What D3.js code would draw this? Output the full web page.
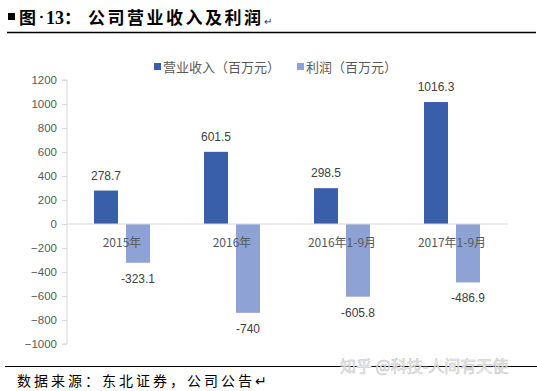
<!DOCTYPE html>
<html><head><meta charset="utf-8">
<script src="https://cdn.jsdelivr.net/npm/d3@7"></script>
<style>body{margin:0;background:#fff}svg{display:block}</style>
</head><body>
<script>
const categories = ["2015年", "2016年", "2016年1-9月", "2017年1-9月"];
const revenue = [278.7, 601.5, 298.5, 1016.3];
const profit = [-323.1, -740, -605.8, -486.9];
const seriesNames = ["营业收入（百万元）", "利润（百万元）"];
const yTicks = [1200, 1000, 800, 600, 400, 200, 0, -200, -400, -600, -800, -1000];

const W = 537, H = 391;
const svg = d3.select("body").append("svg").attr("width", W).attr("height", H);
const colors = ["#3a5faa", "#8ea2d5"];

// Title
const tf = "Noto Sans CJK SC";
svg.append("rect").attr("x", 8).attr("y", 13).attr("width", 7).attr("height", 7).attr("fill", "#000");
svg.append("text").attr("x", 19).attr("y", 24).attr("font-family", tf).attr("font-weight", "bold")
  .attr("font-size", 17).text("图");
svg.append("circle").attr("cx", 41.5).attr("cy", 17).attr("r", 1.3).attr("fill", "#000");
svg.append("text").attr("x", 46).attr("y", 24).attr("font-family", "Liberation Serif")
  .attr("font-weight", "bold").attr("font-size", 18).text("13");
svg.append("text").attr("x", 64).attr("y", 24).attr("font-family", tf).attr("font-weight", "bold")
  .attr("font-size", 17).text("：");
svg.append("text").attr("x", 88).attr("y", 24).attr("font-family", tf).attr("font-weight", "bold")
  .attr("font-size", 17).attr("letter-spacing", 2.5).text("公司营业收入及利润");
svg.append("text").attr("x", 264).attr("y", 25).attr("font-family", tf)
  .attr("font-size", 10).attr("fill", "#333").text("↵");
svg.append("line").attr("x1", 7).attr("x2", 536).attr("y1", 32.5).attr("y2", 32.5)
  .attr("stroke", "#000").attr("stroke-width", 1.3);

const x = d3.scaleBand().domain(categories).range([67, 507]).paddingInner(0).paddingOuter(0);
const y = d3.scaleLinear().domain([-1000, 1200]).range([344, 80]);

// Y axis
const yAxis = svg.append("g").attr("transform", "translate(67,0)")
  .call(d3.axisLeft(y).tickValues(yTicks).tickSize(5).tickPadding(5).tickFormat(d3.format("d")));
yAxis.select(".domain").attr("stroke", "#d9d9d9").attr("d", `M-5,${y(1200)}H0V${y(-1000)}H-5`);
yAxis.selectAll(".tick line").attr("stroke", "#d9d9d9");
yAxis.selectAll(".tick text").attr("fill", "#595959").attr("font-size", 11.5)
  .attr("font-family", "Liberation Sans, Arial, sans-serif");

const bw = 24, off1 = 27, off2 = 59;

// Bars
svg.selectAll(".rev").data(revenue).enter().append("rect")
  .attr("x", (d, i) => x(categories[i]) + off1).attr("width", bw)
  .attr("y", d => y(d)).attr("height", d => y(0) - y(d)).attr("fill", colors[0]);
svg.selectAll(".pro").data(profit).enter().append("rect")
  .attr("x", (d, i) => x(categories[i]) + off2).attr("width", bw)
  .attr("y", y(0)).attr("height", d => y(d) - y(0)).attr("fill", colors[1]);

// zero line
svg.append("line").attr("x1", 67).attr("x2", 508).attr("y1", y(0)).attr("y2", y(0))
  .attr("stroke", "#d9d9d9").attr("stroke-width", 1);

// Category labels
svg.selectAll(".cat").data(categories).enter().append("text")
  .attr("x", d => x(d) + x.bandwidth() / 2).attr("y", y(0) + 23)
  .attr("text-anchor", "middle").attr("font-size", 12).attr("fill", "#595959")
  .attr("font-family", "Noto Sans CJK SC, sans-serif").text(d => d);

// Data labels
svg.selectAll(".rl").data(revenue).enter().append("text")
  .attr("x", (d, i) => x(categories[i]) + off1 + bw / 2).attr("y", d => y(d) - 11)
  .attr("text-anchor", "middle").attr("font-size", 12).attr("fill", "#404040")
  .attr("font-family", "Liberation Sans, Arial, sans-serif").text(d => d);
svg.selectAll(".pl").data(profit).enter().append("text")
  .attr("x", (d, i) => x(categories[i]) + off2 + bw / 2).attr("y", d => y(d) + 20)
  .attr("text-anchor", "middle").attr("font-size", 12).attr("fill", "#404040")
  .attr("font-family", "Liberation Sans, Arial, sans-serif").text(d => d);

// Legend
const lx = [154, 297];
seriesNames.forEach((n, i) => {
  svg.append("rect").attr("x", lx[i]).attr("y", 63).attr("width", 7).attr("height", 7).attr("fill", colors[i]);
  svg.append("text").attr("x", lx[i] + 9).attr("y", 72).attr("font-size", 13)
    .attr("fill", "#595959").attr("font-family", "Noto Sans CJK SC, sans-serif").text(n);
});

// Footer
svg.append("line").attr("x1", 5).attr("x2", 537).attr("y1", 366.5).attr("y2", 366.5)
  .attr("stroke", "#000").attr("stroke-width", 1);
svg.append("text").attr("x", 340).attr("y", 372).attr("font-size", 16)
  .attr("fill", "#f0f0f0").attr("stroke", "#c4c4c4").attr("stroke-width", 0.5)
  .attr("font-family", "Noto Sans CJK SC, sans-serif").text("知乎 @科技-人间有天使");
svg.append("text").attr("x", 17).attr("y", 386).attr("font-size", 14).attr("fill", "#000")
  .attr("letter-spacing", 3)
  .attr("font-family", "Noto Sans CJK SC, sans-serif").text("数据来源：东北证券，公司公告↵");
</script>
</body></html>
